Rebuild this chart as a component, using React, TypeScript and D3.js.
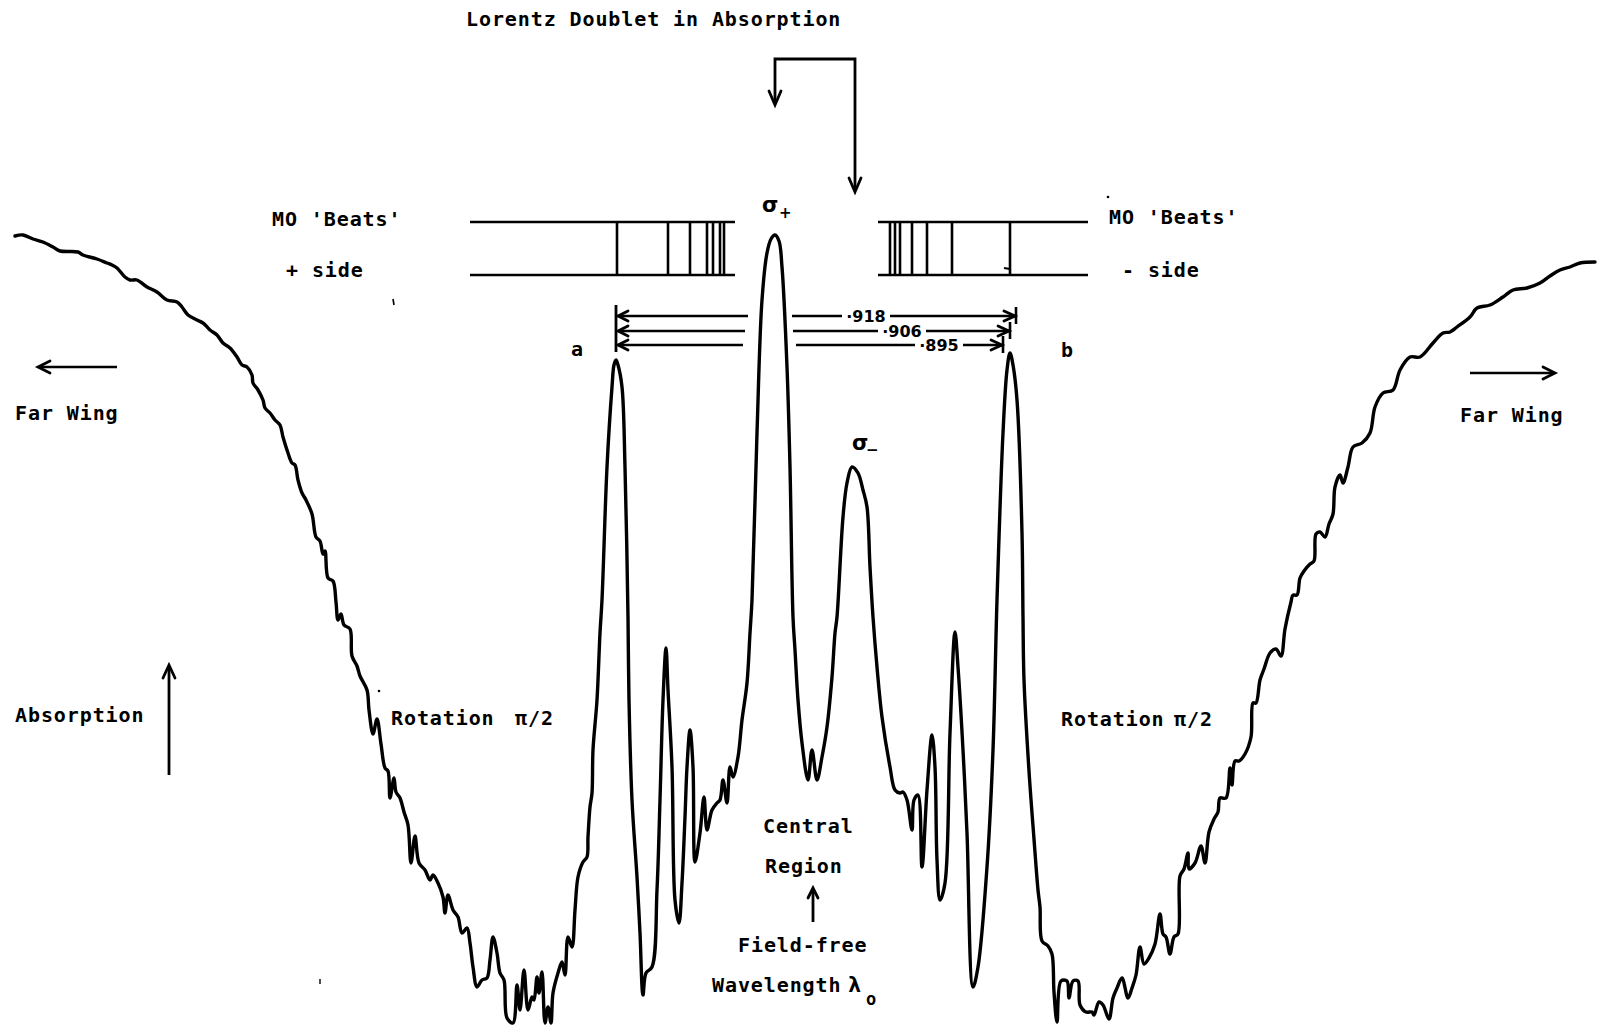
import React from "react";
import * as d3 from "d3";

// Densitometer trace: wavelength offset from the field-free line (arbitrary units)
// against relative absorption, split into the stretches of the profile.
const leftWing: [number, number][] = [
  [-78.5, 79.9], [-77.7, 80.0], [-76.7, 79.6], [-75.7, 79.3], [-74.7, 78.8], [-74.0, 78.4],
  [-72.2, 78.3], [-71.7, 78.0], [-70.3, 77.6], [-69.3, 77.2], [-68.8, 77.0], [-68.3, 76.7],
  [-67.5, 75.8], [-67.0, 75.5], [-66.3, 75.5], [-65.3, 74.8], [-64.3, 74.3], [-63.3, 73.5],
  [-62.3, 73.3], [-61.8, 72.8], [-61.2, 72.0], [-60.3, 71.5], [-59.7, 71.2], [-59.0, 70.5],
  [-58.3, 70.0], [-57.7, 69.2], [-57.0, 68.7], [-56.3, 67.8], [-55.8, 67.0], [-55.3, 66.8],
  [-54.8, 66.0], [-54.7, 65.2], [-54.2, 64.5], [-53.7, 63.5], [-53.5, 62.7], [-53.0, 62.2],
  [-52.5, 61.5], [-52.0, 61.0], [-51.7, 59.8], [-51.2, 58.2], [-50.8, 57.2], [-50.5, 57.0],
  [-50.2, 55.5], [-49.8, 54.2], [-49.4, 53.5], [-48.8, 52.1], [-48.4, 49.8], [-48.0, 49.4],
  [-47.7, 48.1], [-47.5, 48.4], [-47.2, 45.7], [-46.7, 45.4], [-46.4, 43.3], [-46.2, 41.5],
  [-45.9, 42.1], [-45.6, 41.0], [-45.0, 40.6], [-44.8, 37.9], [-44.3, 36.9], [-44.0, 35.9],
  [-43.3, 34.5], [-43.1, 32.5], [-42.7, 30.1], [-42.3, 31.6], [-41.9, 29.1], [-41.5, 26.7],
  [-41.2, 26.4], [-41.0, 23.7], [-40.6, 25.7], [-40.4, 24.3], [-40.0, 23.7], [-39.6, 22.3],
  [-39.2, 21.0], [-38.9, 17.2], [-38.5, 19.9], [-38.1, 17.2], [-37.5, 16.5], [-37.0, 15.5],
  [-36.7, 16.0], [-36.2, 15.2], [-35.7, 13.8], [-35.5, 12.2], [-35.2, 14.0], [-34.7, 12.5],
  [-34.2, 11.8], [-33.8, 10.2], [-33.3, 10.7], [-33.0, 9.2], [-32.7, 6.8], [-32.3, 4.8],
  [-31.8, 5.5], [-31.3, 5.7], [-31.0, 7.5], [-30.7, 9.8], [-30.3, 8.2], [-30.0, 6.2],
  [-29.6, 5.5], [-29.3, 1.7], [-28.7, 1.2], [-28.3, 5.0], [-28.0, 2.5], [-27.6, 6.5],
  [-27.2, 2.5], [-26.8, 3.8], [-26.6, 3.5], [-26.3, 5.8], [-26.1, 4.2], [-25.8, 6.3],
  [-25.5, 1.2], [-25.2, 2.8], [-24.9, 1.2], [-24.7, 4.2], [-24.2, 6.2], [-23.8, 7.3],
  [-23.5, 6.0], [-23.2, 9.8], [-22.8, 8.8], [-22.5, 12.5], [-22.2, 15.8], [-21.7, 17.3],
  [-21.3, 17.8], [-21.2, 19.8], [-21.0, 22.8], [-20.8, 24.2], [-20.7, 28.5], [-20.3, 33.5],
  [-20.0, 40.2], [-19.8, 43.5],
];

const centralRegion: [number, number][] = [
  [-19.3, 56.8], [-18.8, 64.8], [-18.6, 67.0], [-18.4, 67.5], [-18.2, 67.0], [-17.8, 64.8],
  [-17.5, 56.8], [-17.2, 41.8], [-17.1, 33.5], [-16.8, 23.5], [-16.3, 15.8], [-16.0, 10.2],
  [-15.7, 4.0], [-15.4, 6.2], [-14.8, 6.8], [-14.3, 14.5], [-14.0, 23.5], [-13.7, 33.5],
  [-13.4, 38.7], [-13.2, 34.5], [-12.8, 26.8], [-12.5, 13.5], [-12.1, 11.2], [-11.8, 15.2],
  [-11.5, 21.8], [-11.3, 26.8], [-11.0, 30.5], [-10.7, 26.8], [-10.5, 17.3], [-10.0, 20.2],
  [-9.6, 23.8], [-9.3, 20.5], [-8.8, 22.5], [-8.3, 23.2], [-8.0, 23.5], [-7.7, 25.5],
  [-7.3, 23.2], [-7.0, 26.8], [-6.7, 25.8], [-6.2, 27.8], [-5.8, 31.5], [-5.3, 35.2],
  [-5.0, 40.2], [-4.8, 43.5], [-4.3, 60.2], [-3.8, 73.5], [-3.3, 78.2], [-2.9, 79.6],
  [-2.5, 80.0], [-2.1, 79.4], [-1.8, 76.8], [-1.3, 66.8], [-1.0, 56.8], [-0.7, 41.8],
  [-0.5, 38.5], [-0.2, 33.5], [0.2, 29.2], [0.8, 25.5], [1.2, 28.5], [1.7, 25.5],
  [2.2, 27.8], [2.7, 30.8], [3.2, 35.8], [3.5, 40.2], [3.7, 41.8], [4.3, 51.8],
  [4.7, 55.2], [5.2, 56.8], [5.8, 56.2], [6.3, 54.5], [6.7, 52.8], [7.0, 46.8],
  [7.3, 41.8], [7.7, 36.8], [8.2, 31.8], [9.0, 26.8], [9.5, 24.5], [10.0, 24.2],
  [10.3, 24.3], [10.7, 23.5], [11.2, 20.5], [11.4, 23.5], [11.8, 24.0], [12.2, 16.8],
  [12.7, 24.5], [13.2, 30.0], [13.5, 26.8], [13.7, 17.5], [14.0, 13.5], [14.5, 15.2],
  [15.0, 30.2], [15.5, 40.3], [15.8, 36.8], [16.3, 28.5], [16.7, 20.2], [17.3, 4.8],
  [17.8, 6.8], [18.7, 16.8], [19.3, 28.5], [19.7, 43.5], [20.3, 60.2], [20.7, 66.5],
  [21.0, 68.2], [21.3, 67.0], [21.7, 63.5], [22.2, 50.2], [22.3, 41.8], [22.4, 35.5],
  [22.9, 26.4], [23.4, 19.6], [23.8, 14.5], [24.0, 12.8], [24.2, 9.4],
];

const rightWing: [number, number][] = [
  [24.8, 8.9], [25.2, 8.1], [25.4, 4.3], [25.7, 1.3], [26.1, 5.4], [26.7, 5.4],
  [26.9, 3.7], [27.3, 5.4], [27.8, 5.4], [28.0, 3.0], [28.6, 2.3], [29.2, 2.3],
  [29.4, 2.0], [29.9, 3.3], [30.3, 3.0], [30.9, 1.6], [31.3, 3.7], [31.7, 4.7],
  [32.2, 5.7], [32.8, 3.7], [33.2, 4.7], [33.6, 6.0], [34.0, 8.8], [34.4, 7.1],
  [34.9, 7.7], [35.5, 9.1], [36.0, 12.1], [36.3, 10.1], [36.6, 9.8], [37.0, 8.1],
  [37.4, 9.8], [37.8, 10.1], [38.0, 15.9], [38.4, 16.6], [38.8, 18.2], [38.9, 16.6],
  [39.5, 17.2], [40.1, 18.9], [40.5, 17.2], [40.9, 20.3], [41.4, 21.6], [41.8, 22.3],
  [42.0, 23.7], [42.6, 23.7], [43.0, 26.7], [43.2, 25.0], [43.5, 27.4], [43.9, 27.4],
  [44.5, 28.1], [45.1, 29.8], [45.3, 33.2], [45.6, 33.2], [46.0, 35.5], [46.4, 36.6],
  [47.0, 38.2], [47.6, 38.6], [48.1, 37.9], [48.5, 40.6], [49.1, 43.3], [49.3, 44.0],
  [49.7, 44.0], [50.0, 45.7], [50.4, 46.4], [51.0, 47.1], [51.4, 47.4], [51.6, 50.1],
  [52.0, 50.3], [52.5, 49.8], [52.9, 51.1], [53.3, 52.1], [53.5, 54.8], [54.0, 56.0],
  [54.3, 55.2], [54.8, 56.8], [55.3, 58.8], [56.2, 59.2], [57.0, 60.2], [57.5, 62.8],
  [58.3, 64.2], [59.3, 64.5], [60.0, 66.5], [61.0, 67.8], [62.0, 67.8], [63.3, 69.2],
  [64.3, 70.2], [65.0, 70.3], [65.7, 70.8], [67.0, 71.8], [67.7, 72.7], [69.0, 73.0],
  [70.3, 73.8], [71.3, 74.5], [72.7, 74.7], [74.0, 75.2], [75.0, 75.9], [76.0, 76.5],
  [77.0, 76.8], [78.0, 77.2], [79.5, 77.3],
];

// Magneto-optical "beat" positions on either side of the centre
const beatsPlusSide = [-18.3, -13.2, -11.0, -9.3, -8.7, -8.0, -7.6];
const beatsMinusSide = [9.0, 9.5, 10.0, 11.2, 12.7, 15.2, 21.0];
const beatsPlusSpan = [-33.0, -6.5];
const beatsMinusSpan = [7.8, 28.8];

// a–b separations measured from peak a
const separationLabels = ["·918", "·906", "·895"];
const separationFrom = -18.4;
const separationTo = [21.6, 21.0, 20.3];
const separationLabelAt = [6.6, 10.2, 13.9];
const separationGapLeft = [-5.2, -5.5, -5.7];
const separationGapRight = [-0.8, -0.7, -0.4];

const W = 1600;
const H = 1035;

const x = d3.scaleLinear().domain([-80, 80]).range([0, W]);
const y = d3.scaleLinear().domain([0, 103.5]).range([H, 0]);

const MONO = '"DejaVu Sans Mono", monospace';
const SANS = '"DejaVu Sans", sans-serif';
const labelStyle: React.CSSProperties = {
  fontFamily: MONO,
  fontWeight: "bold",
  fontSize: 20,
  letterSpacing: "0.9px",
};

function Chevron({ tx, ty, dir, len = 11, spread = 6 }: { tx: number; ty: number; dir: "up" | "down" | "left" | "right"; len?: number; spread?: number }) {
  let d = "";
  if (dir === "down") d = `M${tx - spread},${ty - len}L${tx},${ty}L${tx + spread},${ty - len}`;
  if (dir === "up") d = `M${tx - spread},${ty + len}L${tx},${ty}L${tx + spread},${ty + len}`;
  if (dir === "left") d = `M${tx + len},${ty - spread}L${tx},${ty}L${tx + len},${ty + spread}`;
  if (dir === "right") d = `M${tx - len},${ty - spread}L${tx},${ty}L${tx - len},${ty + spread}`;
  return <path d={d} fill="none" stroke="#000" strokeWidth={2.8} strokeLinejoin="miter" strokeLinecap="round" />;
}

export default function App() {
  const trace = [...leftWing, ...centralRegion, ...rightWing];
  const line = d3
    .line<[number, number]>()
    .x((d) => x(d[0]))
    .y((d) => y(d[1]))
    .curve(d3.curveCatmullRom.alpha(0.5));

  const boxTop = 222;
  const boxBottom = 275;
  const sepY = [316, 331, 345];

  return (
    <svg
      width={W}
      height={H}
      viewBox={`0 0 ${W} ${H}`}
      style={{ position: "absolute", left: 0, top: 0, background: "#fff" }}
    >
      <rect width={W} height={H} fill="#fff" />

      {/* title and bracket arrow */}
      <text x={466} y={26} style={labelStyle}>Lorentz Doublet in Absorption</text>
      <path d="M775,104V59H855V190" fill="none" stroke="#000" strokeWidth={2.8} />
      <Chevron tx={775} ty={105} dir="down" len={14} spread={6} />
      <Chevron tx={855} ty={192} dir="down" len={14} spread={6} />

      {/* MO beats, + side */}
      <text x={272} y={226} style={labelStyle}>MO 'Beats'</text>
      <text x={286} y={277} style={labelStyle}>+ side</text>
      <line x1={x(beatsPlusSpan[0])} x2={x(beatsPlusSpan[1])} y1={boxTop} y2={boxTop} stroke="#000" strokeWidth={2.4} />
      <line x1={x(beatsPlusSpan[0])} x2={x(beatsPlusSpan[1])} y1={boxBottom} y2={boxBottom} stroke="#000" strokeWidth={2.4} />
      {beatsPlusSide.map((b, i) => (
        <line key={`p${i}`} x1={x(b)} x2={x(b)} y1={boxTop} y2={boxBottom} stroke="#000" strokeWidth={2.6} />
      ))}

      {/* MO beats, - side */}
      <text x={1109} y={224} style={labelStyle}>MO 'Beats'</text>
      <text x={1122} y={277} style={labelStyle}>- side</text>
      <line x1={x(beatsMinusSpan[0])} x2={x(beatsMinusSpan[1])} y1={boxTop} y2={boxTop} stroke="#000" strokeWidth={2.4} />
      <line x1={x(beatsMinusSpan[0])} x2={x(beatsMinusSpan[1])} y1={boxBottom} y2={boxBottom} stroke="#000" strokeWidth={2.4} />
      {beatsMinusSide.map((b, i) => (
        <line key={`m${i}`} x1={x(b)} x2={x(b)} y1={boxTop} y2={boxBottom} stroke="#000" strokeWidth={2.6} />
      ))}
      <path d={`M${x(beatsMinusSide[6]) - 6},${boxBottom - 7}L${x(beatsMinusSide[6])},${boxBottom - 6}`} stroke="#000" strokeWidth={2} fill="none" />

      {/* sigma labels */}
      <text x={762} y={212} style={{ fontFamily: SANS, fontSize: 21, fontWeight: "bold" }}>σ</text>
      <text x={779} y={218} style={{ fontFamily: SANS, fontSize: 15, fontWeight: "bold" }}>+</text>
      <text x={852} y={450} style={{ fontFamily: SANS, fontSize: 21, fontWeight: "bold" }}>σ</text>
      <text x={866} y={455} style={{ fontFamily: SANS, fontSize: 15, fontWeight: "bold" }}>−</text>

      {/* separation measurements a–b */}
      <line x1={x(separationFrom)} x2={x(separationFrom)} y1={305} y2={352} stroke="#000" strokeWidth={2.8} />
      {separationLabels.map((lab, i) => {
        const yy = sepY[i];
        const x0 = x(separationFrom) + 2;
        const xr = x(separationTo[i]);
        const lc = x(separationLabelAt[i]);
        return (
          <g key={lab}>
            <line x1={x0} x2={x(separationGapLeft[i])} y1={yy} y2={yy} stroke="#000" strokeWidth={2.4} />
            <Chevron tx={x0} ty={yy} dir="left" len={10} spread={5} />
            <line x1={x(separationGapRight[i])} x2={lc - 24} y1={yy} y2={yy} stroke="#000" strokeWidth={2.4} />
            <line x1={lc + 24} x2={xr - 1} y1={yy} y2={yy} stroke="#000" strokeWidth={2.4} />
            <Chevron tx={xr - 1} ty={yy} dir="right" len={11} spread={5} />
            <line x1={xr} x2={xr} y1={yy - 9} y2={yy + 8} stroke="#000" strokeWidth={2.6} />
            <text
              x={lc}
              y={yy + 6}
              textAnchor="middle"
              style={{ fontFamily: SANS, fontWeight: "bold", fontSize: 16 }}
            >
              {lab}
            </text>
          </g>
        );
      })}

      <text x={571} y={356} style={labelStyle}>a</text>
      <text x={1061} y={357} style={labelStyle}>b</text>

      {/* far wing markers */}
      <line x1={117} x2={40} y1={367} y2={367} stroke="#000" strokeWidth={2.6} />
      <Chevron tx={38} ty={367} dir="left" len={12} spread={6} />
      <text x={15} y={420} style={labelStyle}>Far Wing</text>
      <line x1={1470} x2={1553} y1={373} y2={373} stroke="#000" strokeWidth={2.6} />
      <Chevron tx={1555} ty={373} dir="right" len={12} spread={6} />
      <text x={1460} y={422} style={labelStyle}>Far Wing</text>

      {/* absorption direction */}
      <text x={15} y={722} style={labelStyle}>Absorption</text>
      <line x1={169} x2={169} y1={775} y2={667} stroke="#000" strokeWidth={2.8} />
      <Chevron tx={169} ty={665} dir="up" len={13} spread={6} />

      <text x={391} y={725} style={labelStyle}>Rotation</text>
      <text x={515} y={725} style={labelStyle}>π/2</text>
      <text x={1061} y={726} style={labelStyle}>Rotation</text>
      <text x={1174} y={726} style={labelStyle}>π/2</text>

      {/* central region */}
      <text x={763} y={833} style={labelStyle}>Central</text>
      <text x={765} y={873} style={labelStyle}>Region</text>
      <line x1={813} x2={813} y1={922} y2={890} stroke="#000" strokeWidth={2.8} />
      <Chevron tx={813} ty={888} dir="up" len={10} spread={5} />
      <text x={738} y={952} style={labelStyle}>Field-free</text>
      <text x={712} y={992} style={labelStyle}>Wavelength</text>
      <text x={848} y={992} style={{ ...labelStyle, fontSize: 22 }}>λ</text>
      <text x={866} y={1005} style={{ ...labelStyle, fontSize: 17 }}>o</text>

      {/* stray specks of the plotter */}
      <line x1={393} x2={394} y1={299} y2={305} stroke="#000" strokeWidth={1.6} />
      <circle cx={379} cy={691} r={1.3} fill="#000" />
      <line x1={320} x2={320} y1={979} y2={984} stroke="#000" strokeWidth={1.4} />
      <circle cx={1108} cy={197} r={1.3} fill="#000" />

      {/* the trace */}
      <path
        d={line(trace) ?? ""}
        fill="none"
        stroke="#000"
        strokeWidth={3.4}
        strokeLinejoin="round"
        strokeLinecap="round"
      />
    </svg>
  );
}
